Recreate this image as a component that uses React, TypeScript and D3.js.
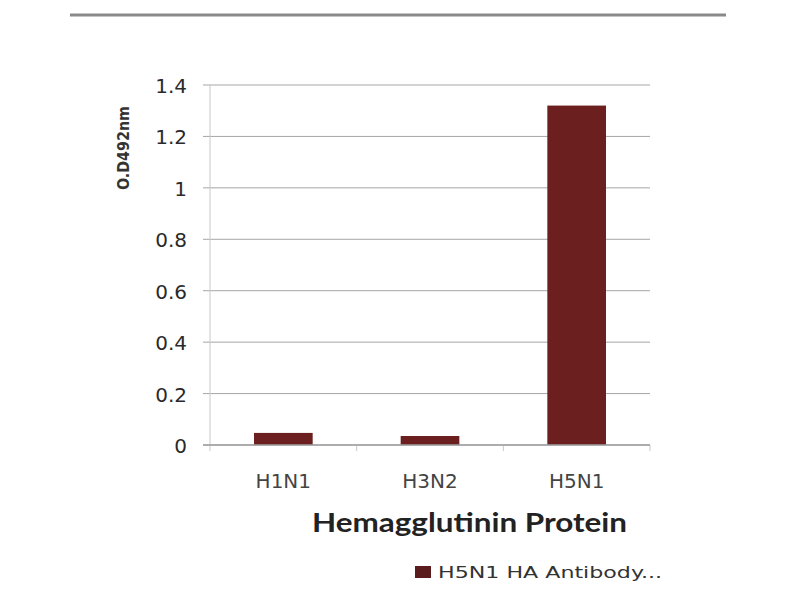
import React from "react";
import * as d3 from "d3";

const categories = ["H1N1", "H3N2", "H5N1"];
const values = [0.047, 0.035, 1.32];
const yTicks = [0, 0.2, 0.4, 0.6, 0.8, 1, 1.2, 1.4];
const seriesName = "H5N1 HA Antibody...";
const xTitle = "Hemagglutinin Protein";
const yTitle = "O.D492nm";

export default function App() {
  const W = 800, H = 600;
  const left = 210, right = 650, top = 85, bottom = 445;
  const x = d3.scaleBand<string>().domain(categories).range([left, right]).paddingInner(0.6).paddingOuter(0.3);
  const xb = d3.scaleBand<string>().domain(categories).range([left, right]);
  const y = d3.scaleLinear().domain([0, 1.4]).range([bottom, top]);
  const fmt = (v: number) => (v === 0 ? "0" : String(v));
  const font = "DejaVu Sans, Verdana, sans-serif";
  return (
    <svg width={W} height={H} style={{ position: "absolute", left: 0, top: 0, background: "#fff" }}>
      <line x1={70} x2={726} y1={15} y2={15} stroke="#8a8a8a" strokeWidth={3} />
      {yTicks.map((t) => (
        <g key={t}>
          <line x1={left - 7} x2={right} y1={y(t)} y2={y(t)} stroke="#a6a6a6" strokeWidth={1} />
          <text x={187} y={y(t) + 8} textAnchor="end" fontFamily={font} fontSize={20} fill="#2a2a2a">
            {fmt(t)}
          </text>
        </g>
      ))}
      <line x1={left} x2={left} y1={top} y2={bottom} stroke="#c8c8c8" strokeWidth={1} />
      {categories.map((c) => (
        <line key={"t" + c} x1={xb(c)!} x2={xb(c)!} y1={bottom} y2={bottom + 6} stroke="#c8c8c8" />
      ))}
      <line x1={right} x2={right} y1={bottom} y2={bottom + 6} stroke="#c8c8c8" />
      {categories.map((c, i) => (
        <rect key={c} x={x(c)!} width={x.bandwidth()} y={y(values[i])} height={y(0) - y(values[i])} fill="#6b1f1f" />
      ))}
      <line x1={left - 7} x2={right} y1={bottom} y2={bottom} stroke="#a0a0a0" strokeWidth={1.5} />
      {categories.map((c) => (
        <text key={"l" + c} x={xb(c)! + xb.bandwidth() / 2} y={488} textAnchor="middle" fontFamily={font} fontSize={20} fill="#444">
          {c}
        </text>
      ))}
      <text x={312} y={532} fontFamily="Lato, Open Sans, sans-serif" fontWeight="bold" fontSize={27} fill="#222" textLength={315} lengthAdjust="spacingAndGlyphs">
        {xTitle}
      </text>
      <text transform="translate(129,148) rotate(-90)" textAnchor="middle" fontFamily="DejaVu Sans Condensed, DejaVu Sans, sans-serif" fontWeight="bold" fontSize={16} fill="#333" textLength={84} lengthAdjust="spacingAndGlyphs">
        {yTitle}
      </text>
      <rect x={415} y={566} width={16} height={12} fill="#5a1c1c" />
      <text x={438} y={578} fontFamily={font} fontSize={15} fill="#333" textLength={224} lengthAdjust="spacingAndGlyphs">
        {seriesName}
      </text>
    </svg>
  );
}
